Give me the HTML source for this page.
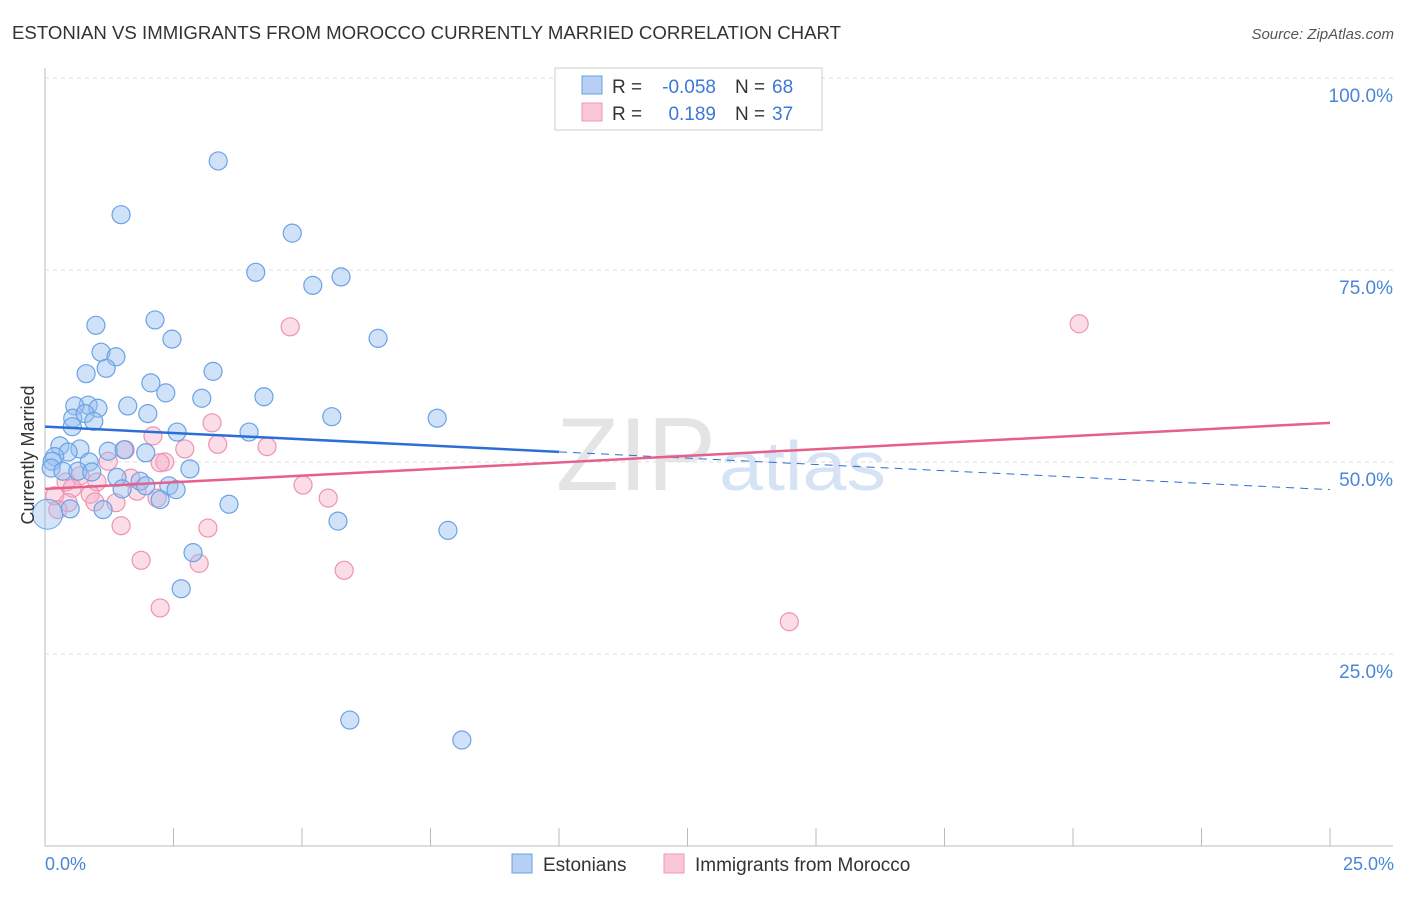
<!DOCTYPE html>
<html><head><meta charset="utf-8"><style>
body{margin:0;background:#fff;font-family:"Liberation Sans",sans-serif}
svg text{font-family:"Liberation Sans",sans-serif}
</style></head><body>
<svg width="1406" height="892" xmlns="http://www.w3.org/2000/svg">
<text x="12" y="39" font-size="18" fill="#333" textLength="829" lengthAdjust="spacingAndGlyphs">ESTONIAN VS IMMIGRANTS FROM MOROCCO CURRENTLY MARRIED CORRELATION CHART</text>
<text x="1394" y="39" font-size="15" fill="#555" font-style="italic" text-anchor="end">Source: ZipAtlas.com</text>
<g id="grid"></g>
<text x="716" y="490" font-size="104" fill="#e4e4e4" text-anchor="end" font-family="Liberation Serif" textLength="160" lengthAdjust="spacingAndGlyphs">ZIP</text>
<text x="719" y="490" font-size="70" fill="#d6e3f5" textLength="167" lengthAdjust="spacingAndGlyphs">atlas</text>
<g id="pts"></g>
<g id="lines"></g>
<text transform="translate(34,455) rotate(-90)" font-size="18" fill="#333" text-anchor="middle">Currently Married</text>
<text x="45" y="870" font-size="18" fill="#4a86d8">0.0%</text>
<text x="1394" y="870" font-size="18" fill="#4a86d8" text-anchor="end">25.0%</text>
<g>
<rect x="555" y="68" width="267" height="62" fill="#fff" stroke="#ccc"/>
<rect x="582" y="76" width="20" height="18" fill="#b6d0f3" stroke="#6a9fe0"/>
<rect x="582" y="103" width="20" height="18" fill="#f9c7d7" stroke="#ee9ab7"/>
<text x="612" y="93" font-size="19" fill="#333">R =</text>
<text x="716" y="93" font-size="19" fill="#3b78d8" text-anchor="end">-0.058</text>
<text x="735" y="93" font-size="19" fill="#333">N =</text>
<text x="772" y="93" font-size="19" fill="#3b78d8">68</text>
<text x="612" y="120" font-size="19" fill="#333">R =</text>
<text x="716" y="120" font-size="19" fill="#3b78d8" text-anchor="end">0.189</text>
<text x="735" y="120" font-size="19" fill="#333">N =</text>
<text x="772" y="120" font-size="19" fill="#3b78d8">37</text>
</g>
<g>
<rect x="512" y="854" width="20" height="19" fill="#b6d0f3" stroke="#6a9fe0"/>
<text x="543" y="871" font-size="19" fill="#333">Estonians</text>
<rect x="664" y="854" width="20" height="19" fill="#f9c7d7" stroke="#ee9ab7"/>
<text x="695" y="871" font-size="19" fill="#333">Immigrants from Morocco</text>
</g>
</svg>
<script>
const yTicks=[25,50,75,100];
const xTicks=[0,2.5,5,7.5,10,12.5,15,17.5,20,22.5,25];
const blueX=[3.37,1.48,4.81,4.10,5.76,5.21,2.14,0.99,2.47,6.48,1.09,1.38,1.19,3.27,0.80,2.06,2.35,4.26,3.05,0.84,0.58,1.61,1.03,2.00,5.58,7.63,0.54,0.78,0.95,0.53,2.57,3.97,0.29,0.68,1.23,1.54,0.45,1.96,0.19,0.14,0.86,0.12,2.82,0.35,0.64,0.91,1.40,1.85,2.41,1.96,1.50,2.55,2.24,3.58,0.49,1.13,5.70,7.84,2.88,2.65,5.93,8.11];
const blueY=[89.2,82.2,79.8,74.7,74.1,73.0,68.5,67.8,66.0,66.1,64.3,63.7,62.2,61.8,61.5,60.3,59.0,58.5,58.3,57.4,57.3,57.3,57.0,56.3,55.9,55.7,55.7,56.3,55.3,54.6,53.9,53.9,52.1,51.7,51.4,51.6,51.3,51.2,50.7,50.1,50.0,49.2,49.1,48.8,48.8,48.7,48.0,47.5,46.9,46.9,46.5,46.4,45.1,44.5,43.9,43.8,42.3,41.1,38.2,33.5,16.4,13.8];
const pinkX=[20.12,4.77,3.25,2.10,3.36,4.32,2.72,1.56,1.23,2.33,2.24,1.67,0.68,0.41,1.01,0.53,5.02,1.79,0.88,0.19,5.51,2.18,0.97,1.38,0.45,0.25,3.17,1.48,1.87,3.00,5.82,2.24,14.48];
const pinkY=[68.0,67.6,55.1,53.4,52.3,52.0,51.7,51.6,50.1,50.0,49.9,47.9,48.2,47.4,47.4,46.6,47.0,46.2,45.8,45.6,45.3,45.3,44.8,44.7,44.7,43.8,41.4,41.7,37.2,36.8,35.9,31.0,29.2];
const blueTrend=[54.6,46.4];
const pinkTrend=[46.5,55.1];
const X=v=>45+v/25*1285, Y=v=>846-v/100*768;
const NS="http://www.w3.org/2000/svg";
function mk(t,a,p){const e=document.createElementNS(NS,t);for(const k in a)e.setAttribute(k,a[k]);p.appendChild(e);return e;}
const grid=document.getElementById('grid');
mk('line',{x1:45,y1:68,x2:45,y2:846,stroke:'#bbb'},grid);
mk('line',{x1:45,y1:846,x2:1393,y2:846,stroke:'#bbb'},grid);
yTicks.forEach(t=>{
 const l=mk('line',{x1:45,x2:1393,y1:Y(t),y2:Y(t),stroke:'#ddd','stroke-dasharray':'4,4'},grid);
 
 
 const tx=mk('text',{x:1393,y:Y(t)+24,'font-size':19,fill:'#4a86d8','text-anchor':'end'},grid);
 tx.textContent=t.toFixed(1)+'%';
 
 
});
xTicks.forEach(t=>{
 const l=mk('line',{x1:X(t),x2:X(t),y1:828,y2:846,stroke:'#bbb'},grid);
 
 
});
const pts=document.getElementById('pts');
function dots(xs,ys,fill,stroke,name){xs.forEach((x,i)=>{
 const c=mk('circle',{cx:X(x),cy:Y(ys[i]),r:9,fill:fill,stroke:stroke,'stroke-width':1.2},pts);
 
 
});}
dots(pinkX,pinkY,'rgba(244,170,195,0.4)','#ee93b2','morocco-point');
dots(blueX,blueY,'rgba(150,190,240,0.45)','#6aa2e6','estonian-point');
const big1=mk('circle',{cx:X(0.05),cy:Y(43.2),r:15,fill:'rgba(150,190,240,0.4)',stroke:'#6aa2e6'},pts);


const lines=document.getElementById('lines');
const bAt=x=>blueTrend[0]+(blueTrend[1]-blueTrend[0])*x/25;
const pAt=x=>pinkTrend[0]+(pinkTrend[1]-pinkTrend[0])*x/25;
let l1=mk('line',{x1:X(0),y1:Y(bAt(0)),x2:X(10),y2:Y(bAt(10)),stroke:'#2b6fd6','stroke-width':2.5},lines);


let l2=mk('line',{x1:X(10),y1:Y(bAt(10)),x2:X(25),y2:Y(bAt(25)),stroke:'#2b6fd6','stroke-width':1,'stroke-dasharray':'8,6'},lines);


let l3=mk('line',{x1:X(0),y1:Y(pAt(0)),x2:X(25),y2:Y(pAt(25)),stroke:'#e5608d','stroke-width':2.5},lines);


</script>
</body></html>
